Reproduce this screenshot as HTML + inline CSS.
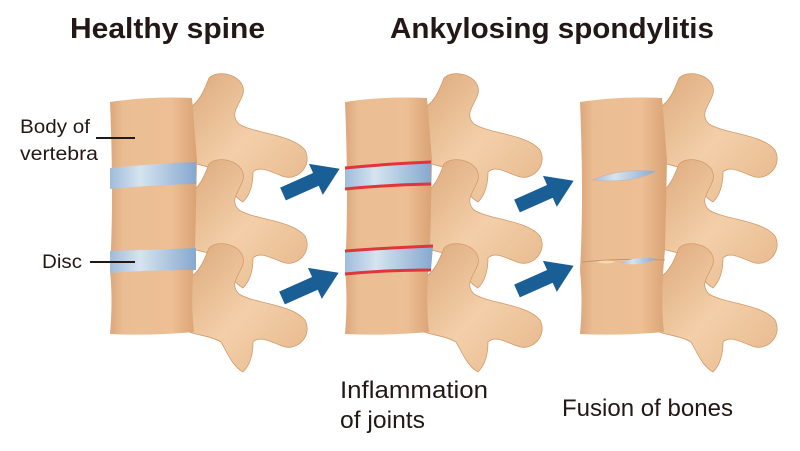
<!DOCTYPE html>
<html><head><meta charset="utf-8"><style>
html,body{margin:0;padding:0;background:#fff;}
svg{display:block;}
</style></head><body>
<svg width="800" height="451" viewBox="0 0 800 451" xmlns="http://www.w3.org/2000/svg" font-family="Liberation Sans, sans-serif">
<defs>
<linearGradient id="bd" x1="0" x2="1" y1="0" y2="0">
<stop offset="0" stop-color="#dca77a"/><stop offset="0.15" stop-color="#eabd93"/><stop offset="0.7" stop-color="#eebf95"/><stop offset="1" stop-color="#d9a274"/>
</linearGradient>
<linearGradient id="pr" x1="0" x2="1" y1="0" y2="1">
<stop offset="0" stop-color="#ddaa7c"/><stop offset="0.5" stop-color="#f3cfa9"/><stop offset="1" stop-color="#e6b78b"/>
</linearGradient>
<linearGradient id="dk" x1="0" x2="1" y1="0" y2="0">
<stop offset="0" stop-color="#9fbcdc"/><stop offset="0.35" stop-color="#d5e4ef"/><stop offset="1" stop-color="#86a8cf"/>
</linearGradient>
<path id="proc" d="M-8,8 C3,2 8,-12 12,-22 C22,-32 50,-24 46,-6 C42,6 32,14 42,24 C58,34 95,34 108,50 C116,66 100,82 85,76 C70,70 62,66 56,72 C56,86 52,96 46,102 C35,96 30,82 24,72 C14,66 4,66 -8,62 Z" fill="url(#pr)" stroke="#d39a6a" stroke-width="0.8"/>
<path id="arr" d="M0,-7 L36,-7 L36,-17 L62,0 L36,17 L36,7 L0,7 Z" fill="#1a5e96"/>
</defs>

<text x="70" y="38" font-size="29" font-weight="bold" fill="#231815" textLength="195" lengthAdjust="spacingAndGlyphs">Healthy spine</text>
<text x="390" y="38" font-size="29" font-weight="bold" fill="#231815" textLength="324" lengthAdjust="spacingAndGlyphs">Ankylosing spondylitis</text>

<!-- spine 1 -->
<g>
<use href="#proc" x="197" y="100"/><use href="#proc" x="197" y="186"/><use href="#proc" x="197" y="270"/>
<path d="M110,102 Q150,96 192,98 L197,160 L195,250 Q190,300 194,332 Q150,336 110,334 Q113,300 110,270 Q114,200 110,102 Z" fill="url(#bd)"/>
<path d="M110,168 Q150,164 196,162 L196,184 Q150,185 110,189 Z" fill="url(#dk)"/>
<path d="M110,251 Q150,250 196,248 L196,270 Q150,270 110,273 Z" fill="url(#dk)"/>
</g>
<!-- spine 2 -->
<g>
<use href="#proc" x="432" y="100"/><use href="#proc" x="432" y="186"/><use href="#proc" x="432" y="270"/>
<path d="M345,102 Q385,96 427,98 L432,160 L430,250 Q425,300 429,332 Q385,336 345,334 Q348,300 345,270 Q349,200 345,102 Z" fill="url(#bd)"/>
<path d="M345,168 Q385,164 431,162 L431,184 Q385,185 345,189 Z" fill="url(#dk)"/>
<path d="M345,168 Q385,164 431,162 M345,189 Q385,185 431,184" fill="none" stroke="#e0353a" stroke-width="3"/>
<path d="M345,251 Q385,248 433,246 L431,270 Q385,270 345,274 Z" fill="url(#dk)"/>
<path d="M345,251 Q385,248 433,246 M345,274 Q385,270 431,270" fill="none" stroke="#e0353a" stroke-width="3"/>
</g>
<!-- spine 3 -->
<g>
<use href="#proc" x="667" y="100"/><use href="#proc" x="667" y="186"/><use href="#proc" x="667" y="270"/>
<path d="M580,102 Q620,96 662,98 L667,160 L665,250 Q660,300 664,332 Q620,336 580,334 Q583,300 580,270 Q584,200 580,102 Z" fill="url(#bd)"/>
<path d="M592,180 Q620,168 657,171 Q632,184 592,180 Z" fill="url(#dk)" stroke="#d4b0a0" stroke-width="0.6"/>
<path d="M582,262 Q620,258 665,260" fill="none" stroke="#c9946a" stroke-width="1"/>
<path d="M620,263 Q640,255 656,259 Q640,267 620,263 Z" fill="url(#dk)"/>
<path d="M596,262 Q606,259 616,262 Q606,265 596,262 Z" fill="#f3dcae"/>
</g>

<!-- arrows -->
<use href="#arr" transform="translate(283,194) rotate(-24)"/>
<use href="#arr" transform="translate(282,298) rotate(-24)"/>
<use href="#arr" transform="translate(517,206) rotate(-24)"/>
<use href="#arr" transform="translate(517,291) rotate(-24)"/>

<!-- labels -->
<text x="20" y="133" font-size="19" fill="#231815" textLength="70" lengthAdjust="spacingAndGlyphs">Body of</text>
<text x="20" y="160" font-size="19" fill="#231815" textLength="78" lengthAdjust="spacingAndGlyphs">vertebra</text>
<line x1="96" y1="138" x2="135" y2="138" stroke="#231815" stroke-width="2"/>
<text x="42" y="268" font-size="19" fill="#231815" textLength="40" lengthAdjust="spacingAndGlyphs">Disc</text>
<line x1="90" y1="262" x2="135" y2="262" stroke="#231815" stroke-width="2"/>
<text x="340" y="398" font-size="24" fill="#231815" textLength="148" lengthAdjust="spacingAndGlyphs">Inflammation</text>
<text x="340" y="428" font-size="24" fill="#231815" textLength="85" lengthAdjust="spacingAndGlyphs">of joints</text>
<text x="562" y="416" font-size="24" fill="#231815" textLength="171" lengthAdjust="spacingAndGlyphs">Fusion of bones</text>
</svg>
</body></html>
